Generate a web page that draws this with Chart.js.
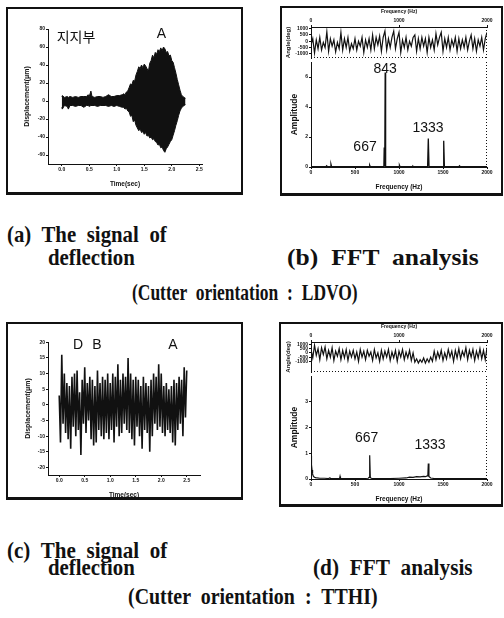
<!DOCTYPE html>
<html>
<head>
<meta charset="utf-8">
<script src="https://cdn.jsdelivr.net/npm/chart.js@4.4.0/dist/chart.umd.min.js"></script>
<style>
  body { margin: 0; width: 504px; height: 618px; position: relative; overflow: hidden; background: #fff; }
  .box { position: absolute; box-sizing: border-box; border: 2px solid #111; border-bottom-width: 3px; }
  .cap { position: absolute; white-space: pre; font: bold 23px "Liberation Serif", serif; line-height: 23px;
         word-spacing: 6px; color: #111; transform-origin: 0 0; }
</style>
</head>
<body>
<div class="box" style="left:6px;top:7px;width:237px;height:188px"></div>
<div class="box" style="left:280px;top:6px;width:223px;height:190px"></div>
<div class="box" style="left:6px;top:322px;width:237px;height:178px"></div>
<div class="box" style="left:279px;top:322px;width:224px;height:185px"></div>

<div class="cap" style="left:7px;top:223px" data-w="160">(a) The signal of</div>
<div class="cap" style="left:48px;top:246px" data-w="87">deflection</div>
<div class="cap" style="left:287px;top:246px" data-w="192">(b) FFT analysis</div>
<div class="cap" style="left:132px;top:281px" data-w="226">(Cutter orientation : LDVO)</div>
<div class="cap" style="left:7px;top:539px" data-w="160">(c) The signal of</div>
<div class="cap" style="left:48px;top:556px" data-w="87">deflection</div>
<div class="cap" style="left:313px;top:556px" data-w="160">(d) FFT analysis</div>
<div class="cap" style="left:128px;top:585px" data-w="250">(Cutter orientation : TTHI)</div>

<script>
// (a) LDVO deflection signal, upper / lower envelope
const timeA = [0, 0.01, 0.05, 0.1, 0.12, 0.15, 0.2, 0.25, 0.3, 0.35,
  0.4, 0.45, 0.48, 0.5, 0.53, 0.55, 0.6, 0.65, 0.7, 0.75,
  0.8, 0.85, 0.9, 0.95, 1.0, 1.05, 1.1,
  1.125, 1.15, 1.175, 1.2, 1.225, 1.25, 1.275, 1.3, 1.325, 1.35,
  1.375, 1.4, 1.425, 1.45, 1.475, 1.5, 1.525, 1.55, 1.575, 1.6,
  1.625, 1.65, 1.675, 1.7, 1.725, 1.75, 1.775, 1.8, 1.825, 1.85,
  1.875, 1.9, 1.925, 1.95, 1.975, 2.0, 2.025, 2.05, 2.075, 2.1,
  2.125, 2.15, 2.175, 2.2, 2.225, 2.25];
const upperA = [5, 6, 4, 5, 4, 5, 4, 5, 4, 5,
  5, 5, 7, 5, 11, 5, 4, 5, 5, 4,
  5, 7, 5, 5, 6, 6, 7,
  8, 7, 10, 11, 15, 19, 18, 23, 22, 29,
  33, 38, 36, 40, 37, 41, 39, 36, 33, 42,
  45, 51, 48, 54, 52, 57, 55, 59, 56, 60,
  58, 54, 55, 50, 51, 45, 43, 37, 31, 24,
  18, 12, 7, 5, 4, 3];
const lowerA = [-7, -9, -5, -6, -9, -5, -5, -6, -5, -5,
  -7, -5, -5, -6, -5, -5, -5, -6, -5, -5,
  -5, -6, -5, -6, -5, -6, -7,
  -7, -9, -8, -11, -12, -17, -16, -23, -21, -27,
  -30, -33, -31, -35, -34, -37, -35, -39, -38, -41,
  -40, -43, -42, -45, -46, -49, -48, -52, -51, -55,
  -57, -53, -51, -48, -45, -43, -38, -33, -27, -22,
  -16, -11, -8, -6, -5, -4];

// (c) TTHI deflection signal
const timeC = [0, 0.025, 0.05, 0.075, 0.1, 0.125, 0.15, 0.175, 0.2, 0.225,
  0.25, 0.275, 0.3, 0.325, 0.35, 0.375, 0.4, 0.425, 0.45, 0.475,
  0.5, 0.525, 0.55, 0.575, 0.6, 0.625, 0.65, 0.675, 0.7, 0.725,
  0.75, 0.775, 0.8, 0.825, 0.85, 0.875, 0.9, 0.925, 0.95, 0.975,
  1.0, 1.025, 1.05, 1.075, 1.1, 1.125, 1.15, 1.175, 1.2, 1.225,
  1.25, 1.275, 1.3, 1.325, 1.35, 1.375, 1.4, 1.425, 1.45, 1.475,
  1.5, 1.525, 1.55, 1.575, 1.6, 1.625, 1.65, 1.675, 1.7, 1.725,
  1.75, 1.775, 1.8, 1.825, 1.85, 1.875, 1.9, 1.925, 1.95, 1.975,
  2.0, 2.025, 2.05, 2.075, 2.1, 2.125, 2.15, 2.175, 2.2, 2.225,
  2.25, 2.275, 2.3, 2.325, 2.35, 2.375, 2.4, 2.425, 2.45, 2.475, 2.5];
const dispC = [3, -12, 16, -6, 10, -9, 7, -11, 6, -14,
  9, -7, 10, -10, 11, -8, 4, -16, 8, -6,
  12, -9, 7, -5, 9, -11, 8, -13, 6, -12,
  11, -8, 7, -10, 9, -11, 8, -9, 10, -11,
  7, -8, 10, -12, 9, -7, 13, -10, 8, -9,
  10, -6, 9, -8, 15, -9, 10, -11, 8, -13,
  9, -7, 8, -10, 6, -14, 9, -8, 7, -9,
  6, -15, 8, -10, 10, -6, 9, -8, 13, -7,
  10, -9, 6, -10, 7, -8, 5, -9, 6, -12,
  8, -13, 7, -8, 9, -6, 8, -10, 12, -4, 11];

// phase traces of the FFT (deg), sampled every 20 Hz
const freqAng = [0, 20, 40, 60, 80, 100, 120, 140, 160, 180,
  200, 220, 240, 260, 280, 300, 320, 340, 360, 380,
  400, 420, 440, 460, 480, 500, 520, 540, 560, 580,
  600, 620, 640, 660, 680, 700, 720, 740, 760, 780,
  800, 820, 840, 860, 880, 900, 920, 940, 960, 980,
  1000, 1020, 1040, 1060, 1080, 1100, 1120, 1140, 1160, 1180,
  1200, 1220, 1240, 1260, 1280, 1300, 1320, 1340, 1360, 1380,
  1400, 1420, 1440, 1460, 1480, 1500, 1520, 1540, 1560, 1580,
  1600, 1620, 1640, 1660, 1680, 1700, 1720, 1740, 1760, 1780,
  1800, 1820, 1840, 1860, 1880, 1900, 1920, 1940, 1960, 1980, 2000];
const angleB = [-300, 200, -950, 100, -600, 300, -700, -100, -500, 750,
  -800, 200, -400, 100, -850, -100, -600, 700, -700, 200,
  -500, 300, -800, -200, -600, 200, -700, 0, -400, 300,
  -900, 100, -500, 200, -700, 500, -600, 300, -300, 400,
  -800, 300, 800, -700, 200, -500, 300, 800, -600, 200,
  700, -900, 100, -500, 300, -700, 0, -400, 300, 500,
  -800, 200, -600, 300, -400, 200, -900, 300, -500, 100,
  -700, 600, -300, 300, 700, -800, 200, -500, 300, -700,
  100, -400, 300, -800, 200, -600, 100, -500, 300, -700,
  0, 500, -600, 200, -800, 100, -400, 300, -700, 200, 700];
const angleD = [400, -600, 900, -300, 500, -800, 600, -200, 700, -700,
  300, -500, 600, -900, 200, -400, 500, -800, 300, -600,
  400, -900, 200, -500, 300, -700, 100, -1000, 400, -500,
  200, -800, 300, -400, 100, -900, 400, -600, 0, -1000,
  300, -700, 200, -500, 400, -900, 100, -600, 300, -1000,
  200, -500, 400, -800, 100, -600, 300, -900, 0, -1100,
  -700, -1200, -800, -1100, -600, -1200, -700, -1100, -500, -1000,
  200, -800, 100, -600, 300, -900, 0, -700, 400, -500,
  200, -1000, 300, -600, 500, -700, 200, -400, 600, -800,
  300, -500, 400, -900, 200, -600, 500, -700, 300, -800, 600];

// amplitude spectra
const freqB = [0, 170, 178, 186, 220, 227, 234, 600, 660, 667,
  674, 828, 832, 836, 840, 843, 846, 850, 1000, 1005,
  1012, 1150, 1158, 1166, 1325, 1333, 1341, 1500, 1508, 1516,
  1680, 1688, 1696, 2000];
const ampB = [0.02, 0.02, 0.08, 0.02, 0.02, 0.18, 0.02, 0.02, 0.02, 0.12,
  0.02, 0.02, 1.3, 0.02, 0.02, 6.3, 0.02, 0.02, 0.02, 0.12,
  0.02, 0.02, 0.06, 0.02, 0.02, 1.9, 0.02, 0.02, 1.75, 0.02,
  0.02, 0.08, 0.02, 0.02];
const freqD = [0, 3, 8, 12, 18, 25, 35, 50, 70, 100,
  150, 200, 215, 220, 225, 300, 325, 330, 335, 400,
  500, 600, 650, 660, 667, 674, 684, 700, 800, 900,
  1000, 1080, 1120, 1160, 1200, 1240, 1280, 1300, 1320, 1328,
  1333, 1340, 1360, 1400, 1500, 1600, 1700, 1800, 1900, 2000];
const ampD = [0.9, 0.85, 0.55, 0.35, 0.2, 0.12, 0.08, 0.05, 0.04, 0.03,
  0.03, 0.02, 0.05, 0.02, 0.02, 0.02, 0.02, 0.1, 0.02, 0.02,
  0.02, 0.02, 0.03, 0.06, 0.92, 0.06, 0.03, 0.02, 0.02, 0.02,
  0.03, 0.04, 0.07, 0.06, 0.09, 0.08, 0.1, 0.09, 0.12, 0.15,
  0.6, 0.1, 0.04, 0.02, 0.02, 0.02, 0.02, 0.02, 0.02, 0.02];

// tick labels
const ticksTime = [0, 0.5, 1, 1.5, 2, 2.5];
const ticksDispA = [80, 60, 40, 20, 0, -20, -40, -60];
const ticksDispC = [20, 15, 10, 5, 0, -5, -10, -15, -20];
const ticksFreq = [0, 500, 1000, 1500, 2000];
const ticksFreqTop = [0, 1000, 2000];
const ticksAngle = [1000, 500, 0, -500, -1000];
const ticksAmpB = [0, 2, 4, 6];
const ticksAmpD = [0, 1, 2, 3];

// text written inside the plots: [text, x value, y value]
const notesA = [["지지부", 0.26, 72], ["A", 1.81, 74]];
const notesB = [["843", 843, 6.5], ["667", 614, 1.3], ["1333", 1330, 2.6]];
const notesC = [["D", 0.37, 19], ["B", 0.74, 19], ["A", 2.23, 19]];
const notesD = [["667", 632, 1.6], ["1333", 1352, 1.3]];

const TICK_FONT = { family: "Liberation Sans", size: 5, weight: "bold" };
const bold = (size) => ({ family: "Liberation Sans", size: size, weight: "bold" });

const framePlugin = {
  id: "frame",
  afterDraw(chart, args, opts) {
    if (!opts.sides) return;
    const { ctx, chartArea: a } = chart;
    ctx.save();
    ctx.strokeStyle = "#111";
    ctx.lineWidth = 1;
    ctx.setLineDash([1, 2]);
    ctx.beginPath();
    for (const s of opts.sides) {
      if (s === "bottom") { ctx.moveTo(a.left, a.bottom - 0.5); ctx.lineTo(a.right, a.bottom - 0.5); }
      if (s === "right") { ctx.moveTo(a.right - 0.5, a.top); ctx.lineTo(a.right - 0.5, a.bottom); }
      if (s === "top") { ctx.moveTo(a.left, a.top + 0.5); ctx.lineTo(a.right, a.top + 0.5); }
    }
    ctx.stroke();
    ctx.restore();
  }
};

const notePlugin = {
  id: "notes",
  afterDatasetsDraw(chart, args, opts) {
    if (!opts.items) return;
    const { ctx, scales } = chart;
    ctx.save();
    ctx.fillStyle = "#111";
    ctx.textAlign = "center";
    ctx.textBaseline = "middle";
    for (const [text, vx, vy] of opts.items) {
      ctx.font = /[가-힣]/.test(text) ? '14px "Noto Sans CJK KR"' : '14px "Liberation Sans"';
      ctx.fillText(text, scales.x.getPixelForValue(vx), scales.y.getPixelForValue(vy));
    }
    ctx.restore();
  }
};

function addCanvas(box) {
  const c = document.createElement("canvas");
  c.width = box[2];
  c.height = box[3];
  c.style.cssText = `position:absolute;left:${box[0]}px;top:${box[1]}px;width:${box[2]}px;height:${box[3]}px`;
  document.body.appendChild(c);
  return c;
}

function axis(o) {
  const vertical = o.position === "left";
  return {
    type: "linear",
    position: o.position,
    min: o.min,
    max: o.max,
    afterBuildTicks: (s) => { s.ticks = o.ticks.map((v) => ({ value: v })); },
    afterFit: (s) => { if (vertical) s.width = o.size; else s.height = o.size; },
    grid: { display: true, drawOnChartArea: false, drawTicks: true, tickLength: 2, color: "#111" },
    border: { display: true, color: "#111", width: 1, dash: o.dotted ? [1, 2] : [] },
    ticks: { font: TICK_FONT, color: "#111", padding: 1, autoSkip: false, maxRotation: 0,
             callback: o.fmt || ((v) => String(v)) },
    title: { display: !!o.title, text: o.title, font: o.titleFont, color: "#111",
             padding: o.titlePad || 0 }
  };
}

function lineSet(xs, ys, width, extra) {
  return Object.assign({
    data: xs.map((x, i) => ({ x: x, y: ys[i] })),
    borderColor: "#111", borderWidth: width, pointRadius: 0, tension: 0, fill: false
  }, extra || {});
}

// box: canvas [left, top, width, height]; area: plot area [x1, y1, x2, y2] in page pixels
function makeChart(box, area, xAxis, yAxis, datasets, notes, sides) {
  const canvas = addCanvas(box);
  const xTop = xAxis.position === "top";
  xAxis.size = xTop ? area[1] - box[1] : box[1] + box[3] - area[3];
  yAxis.size = area[0] - box[0];
  return new Chart(canvas, {
    type: "line",
    data: { datasets: datasets },
    options: {
      responsive: false,
      animation: false,
      devicePixelRatio: 1,
      layout: { padding: {
        left: 0,
        top: xTop ? 0 : area[1] - box[1],
        right: box[0] + box[2] - area[2],
        bottom: xTop ? box[1] + box[3] - area[3] : 0
      } },
      scales: { x: axis(xAxis), y: axis(yAxis) },
      plugins: {
        legend: { display: false },
        tooltip: { enabled: false },
        notes: { items: notes },
        frame: { sides: sides }
      }
    },
    plugins: [framePlugin, notePlugin]
  });
}

const fmt1 = (v) => v.toFixed(1);

// (a) signal of deflection, LDVO
makeChart([8, 9, 233, 184], [48, 29, 202, 164],
  { position: "bottom", min: -0.25, max: 2.55, ticks: ticksTime, fmt: fmt1,
    title: "Time(sec)", titleFont: bold(6.5), titlePad: { top: 0, bottom: 5 } },
  { position: "left", min: -70, max: 80, ticks: ticksDispA,
    title: "Displacement(μm)", titleFont: bold(7), titlePad: { top: 15, bottom: 0 } },
  [lineSet(timeA, upperA, 1, { fill: "+1", backgroundColor: "#111" }),
   lineSet(timeA, lowerA, 1)],
  notesA, null);

// (b) FFT analysis, LDVO: phase and amplitude
makeChart([282, 8, 219, 54], [311, 27, 487, 60],
  { position: "top", min: 0, max: 2000, ticks: ticksFreqTop, dotted: true,
    title: "Frequency (Hz)", titleFont: bold(5), titlePad: { top: 1, bottom: 0 } },
  { position: "left", min: -1340, max: 1130, ticks: ticksAngle, dotted: true,
    title: "Angle(deg)", titleFont: bold(6), titlePad: { top: 3, bottom: 0 } },
  [lineSet(freqAng, angleB, 1.2)],
  null, ["bottom", "right"]);
makeChart([282, 58, 219, 136], [311, 60, 487, 167],
  { position: "bottom", min: 0, max: 2000, ticks: ticksFreq,
    title: "Frequency (Hz)", titleFont: bold(6.5), titlePad: { top: 0, bottom: 3 } },
  { position: "left", min: 0, max: 7, ticks: ticksAmpB,
    title: "Amplitude", titleFont: bold(8.5), titlePad: { top: 8, bottom: 0 } },
  [lineSet(freqB, ampB, 1.3)],
  notesB, ["right"]);

// (c) signal of deflection, TTHI
makeChart([8, 324, 233, 176], [48, 342, 200, 475],
  { position: "bottom", min: -0.22, max: 2.76, ticks: ticksTime, fmt: fmt1,
    title: "Time(sec)", titleFont: bold(6.5), titlePad: { top: 0, bottom: 1 } },
  { position: "left", min: -22.4, max: 20.1, ticks: ticksDispC,
    title: "Displacement(μm)", titleFont: bold(7), titlePad: { top: 16, bottom: 0 } },
  [lineSet(timeC, dispC, 1.6)],
  notesC, null);

// (d) FFT analysis, TTHI: phase and amplitude
makeChart([281, 324, 220, 52], [311, 342, 487, 374],
  { position: "top", min: 0, max: 2000, ticks: ticksFreqTop, dotted: true,
    title: "Frequency (Hz)", titleFont: bold(5), titlePad: { top: 0, bottom: 0 } },
  { position: "left", min: -2250, max: 1280, ticks: ticksAngle, dotted: true,
    title: "Angle(deg)", titleFont: bold(6), titlePad: { top: 4, bottom: 0 } },
  [lineSet(freqAng, angleD, 1.2)],
  null, ["bottom", "right"]);
makeChart([281, 372, 220, 133], [311, 374, 487, 479],
  { position: "bottom", min: 0, max: 2000, ticks: ticksFreq,
    title: "Frequency (Hz)", titleFont: bold(6.5), titlePad: { top: 0, bottom: 2 } },
  { position: "left", min: 0, max: 4, ticks: ticksAmpD,
    title: "Amplitude", titleFont: bold(8.5), titlePad: { top: 9, bottom: 0 } },
  [lineSet(freqD, ampD, 1.2)],
  notesD, ["right"]);

// squeeze captions to the widths of the printed figure
document.querySelectorAll(".cap").forEach((el) => {
  el.style.transform = `scaleX(${el.dataset.w / el.offsetWidth})`;
});
</script>
</body>
</html>
